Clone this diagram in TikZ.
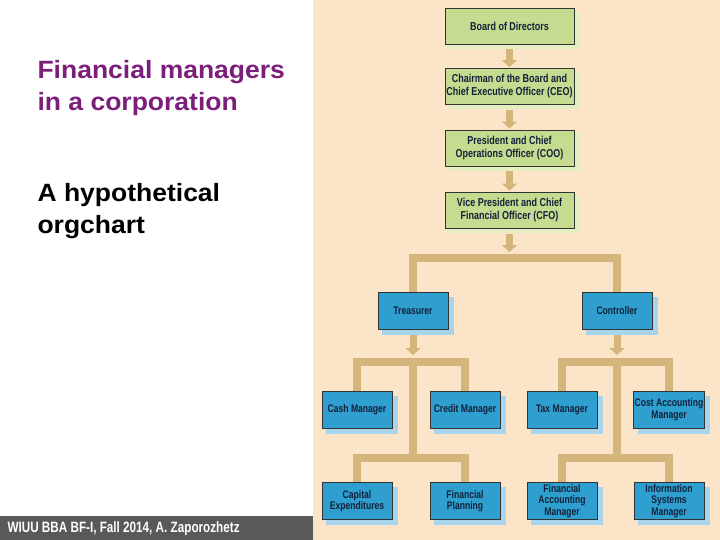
\documentclass[tikz,border=0pt]{standalone}
\usepackage{fontspec}
\setmainfont{Liberation Sans}
\newfontfamily\cond[FakeStretch=0.78]{Liberation Sans}
\newfontfamily\wide[FakeStretch=1.06]{Liberation Sans}
\usetikzlibrary{arrows.meta}
\definecolor{peach}{HTML}{FCE4C8}
\definecolor{tan}{HTML}{D4B67C}
\definecolor{grn}{HTML}{C5DB8F}
\definecolor{grnsh}{HTML}{E2EDC0}
\definecolor{blu}{HTML}{2E9FCF}
\definecolor{blush}{HTML}{A8D4EC}
\definecolor{navy}{HTML}{13213A}
\definecolor{purp}{HTML}{7B1F7B}
\tikzset{
 gbox/.style={draw=black!80,line width=0.8pt,fill=grn,minimum width=129pt,minimum height=36pt,align=center,font=\cond\bfseries\fontsize{11.5}{13}\selectfont,text=navy,inner sep=1pt},
 bbox/.style={draw=black!80,line width=0.8pt,fill=blu,minimum width=70pt,minimum height=37pt,align=center,font=\cond\bfseries\fontsize{11}{11.5}\selectfont,text=navy,inner sep=1pt},
 link/.style={draw=tan,line width=8pt},
 arr/.style={tan,line width=7pt,-{Triangle[width=15pt,length=7pt]}},
 big/.style={anchor=north west,align=left,font=\wide\bfseries\fontsize{25}{32}\selectfont},
}
\begin{document}
\begin{tikzpicture}[x=1pt,y=-1pt]
\useasboundingbox (0,0) rectangle (720,540);
\fill[white] (0,0) rectangle (720,540);
\fill[peach] (313,0) rectangle (720,540);
\foreach \y in {26,86,148,210}{\fill[grnsh] (449.5,\y-14) rectangle (579.5,\y+23);}
\node[gbox] (bod) at (509.5,26) {Board of Directors};
\node[gbox] (ceo) at (509.5,86.5) {Chairman of the Board and\\Chief Executive Officer (CEO)};
\node[gbox] (coo) at (509.5,148) {President and Chief\\Operations Officer (COO)};
\node[gbox] (cfo) at (509.5,210) {Vice President and Chief\\Financial Officer (CFO)};
\draw[arr] ([yshift=-5pt]bod.south) -- ([yshift=1pt]ceo.north);
\draw[arr] ([yshift=-5pt]ceo.south) -- ([yshift=1pt]coo.north);
\draw[arr] ([yshift=-5pt]coo.south) -- ([yshift=1pt]cfo.north);
\foreach \x/\y in {413/311,617/311,357/409.5,465/409.5,562/409.5,669/409.5,357/501,465/501,562/501,669/501}{\fill[blush] (\x-31,\y-14) rectangle (\x+41,\y+24);}
\node[bbox] (tre) at (413,311) {Treasurer};
\node[bbox] (con) at (617,311) {Controller};
\node[bbox] (cash) at (357,409.5) {Cash Manager};
\node[bbox] (cred) at (465,409.5) {Credit Manager};
\node[bbox] (tax) at (562,409.5) {Tax Manager};
\node[bbox] (cost) at (669,409.5) {Cost Accounting\\Manager};
\node[bbox] (cap) at (357,501) {Capital\\Expenditures};
\node[bbox] (fp) at (465,501) {Financial\\Planning};
\node[bbox] (fam) at (562,501) {Financial\\Accounting\\Manager};
\node[bbox] (ism) at (669,501) {Information\\Systems\\Manager};
\coordinate (c1) at (509.5,258);
\draw[arr] ([yshift=-6pt]cfo.south) -- (509.5,252);
\draw[link] (tre.north) |- (c1) -| (con.north);
\draw[arr] ([yshift=-5pt]tre.south) -- (413,355);
\draw[arr] ([yshift=-5pt]con.south) -- (617,355);
\draw[link] (cash.north) |- (413,362) -| (cred.north);
\draw[link] (413,358) -- (413,458);
\draw[link] (cap.north) |- (413,458) -| (fp.north);
\draw[link] (tax.north) |- (617,362) -| (cost.north);
\draw[link] (617,358) -- (617,458);
\draw[link] (fam.north) |- (617,458) -| (ism.north);
\node[big,text=purp] (t1) at (34,57) {Financial managers\\in a corporation};
\node[big] (t2) at (34,180) {A hypothetical\\orgchart};
\fill[black!65] (0,516) rectangle (313,540);
\node[anchor=west,text=white,font=\cond\bfseries\fontsize{15}{16}\selectfont] (ft) at (4,529) {WIUU BBA BF-I, Fall 2014, A. Zaporozhetz};
\end{tikzpicture}
\end{document}
